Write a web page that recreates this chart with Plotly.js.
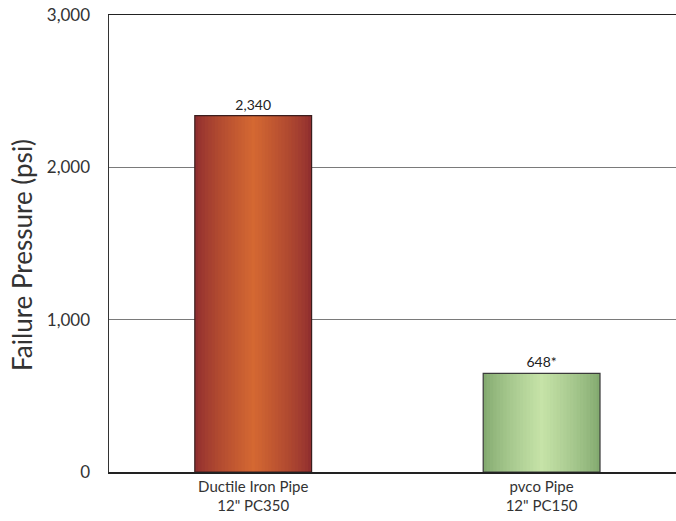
<!DOCTYPE html>
<html>
<head>
<meta charset="utf-8">
<script src="https://cdn.plot.ly/plotly-3.0.1.min.js"></script>
<style>html,body{margin:0;padding:0;background:#fff;}#chart{width:676px;height:521px;}</style>
</head>
<body>
<div id="chart"></div>
<script>
// ---- data ----
const categories = ['Ductile Iron Pipe<br>12" PC350', 'pvco Pipe<br>12" PC150'];
const failurePressure = [2340, 648];
const valueLabels = ['2,340', '648*'];
const yTickValues = [0, 1000, 2000, 3000];
const yTickLabels = ['0', '1,000', '2,000', '3,000'];
const yTitle = 'Failure Pressure (psi)';

// ---- styling (gradient built from overlaid bars) ----
const edgeColors = [[145, 47, 47], [131, 170, 112]];
const centerColors = [[212, 104, 50], [198, 227, 168]];
const outlineColors = ['#3b1e1e', '#3a3a3a'];
const fullWidth = 0.405;
const steps = 18;

function mix(a, b, t) {
  return 'rgb(' + a.map((v, i) => Math.round(v + (b[i] - v) * t)).join(',') + ')';
}

const traces = [];
for (let s = 0; s < steps; s++) {
  const frac = s / (steps - 1);
  const w = fullWidth * (1 - frac * 0.97);
  const t = Math.pow(frac, 0.8);
  traces.push({
    type: 'bar',
    x: categories,
    y: failurePressure,
    width: categories.map(() => w),
    marker: {
      color: categories.map((c, i) => mix(edgeColors[i], centerColors[i], t)),
      line: {width: 0}
    },
    hoverinfo: 'skip',
    showlegend: false
  });
}
traces.push({
  type: 'bar',
  x: categories,
  y: failurePressure,
  width: categories.map(() => fullWidth),
  text: valueLabels,
  textposition: 'outside',
  cliponaxis: false,
  textfont: {family: 'Lato, sans-serif', size: 14, color: '#222'},
  marker: {color: 'rgba(0,0,0,0)', line: {width: 1.2, color: outlineColors}},
  showlegend: false
});

const layout = {
  width: 676,
  height: 521,
  margin: {l: 109, r: 0, t: 15, b: 49},
  paper_bgcolor: '#fff',
  plot_bgcolor: '#fff',
  barmode: 'overlay',
  font: {family: 'Lato, sans-serif', color: '#333'},
  xaxis: {
    type: 'category',
    range: [-0.5, 1.466],
    showline: true,
    mirror: true,
    linecolor: '#222',
    linewidth: 1.5,
    showgrid: false,
    ticks: '',
    tickfont: {size: 15, color: '#333'},
    fixedrange: true
  },
  yaxis: {
    range: [0, 3000],
    tickvals: yTickValues,
    ticktext: yTickLabels,
    showline: true,
    linecolor: '#333',
    linewidth: 1.5,
    showgrid: true,
    gridcolor: '#7a7a7a',
    gridwidth: 1,
    zeroline: false,
    ticks: '',
    ticklabelstandoff: 14,
    tickfont: {size: 17, color: '#333'},
    automargin: false,
    fixedrange: true
  },
  annotations: [{
    text: yTitle,
    textangle: -90,
    xref: 'paper', yref: 'paper',
    x: (22 - 109) / 567, y: (472 - 255) / 457,
    xanchor: 'center', yanchor: 'middle',
    showarrow: false,
    font: {family: 'Lato, sans-serif', size: 26, color: '#333'}
  }],
  bargap: 0.5
};

Plotly.newPlot('chart', traces, layout, {displayModeBar: false, staticPlot: true});
</script>
</body>
</html>
